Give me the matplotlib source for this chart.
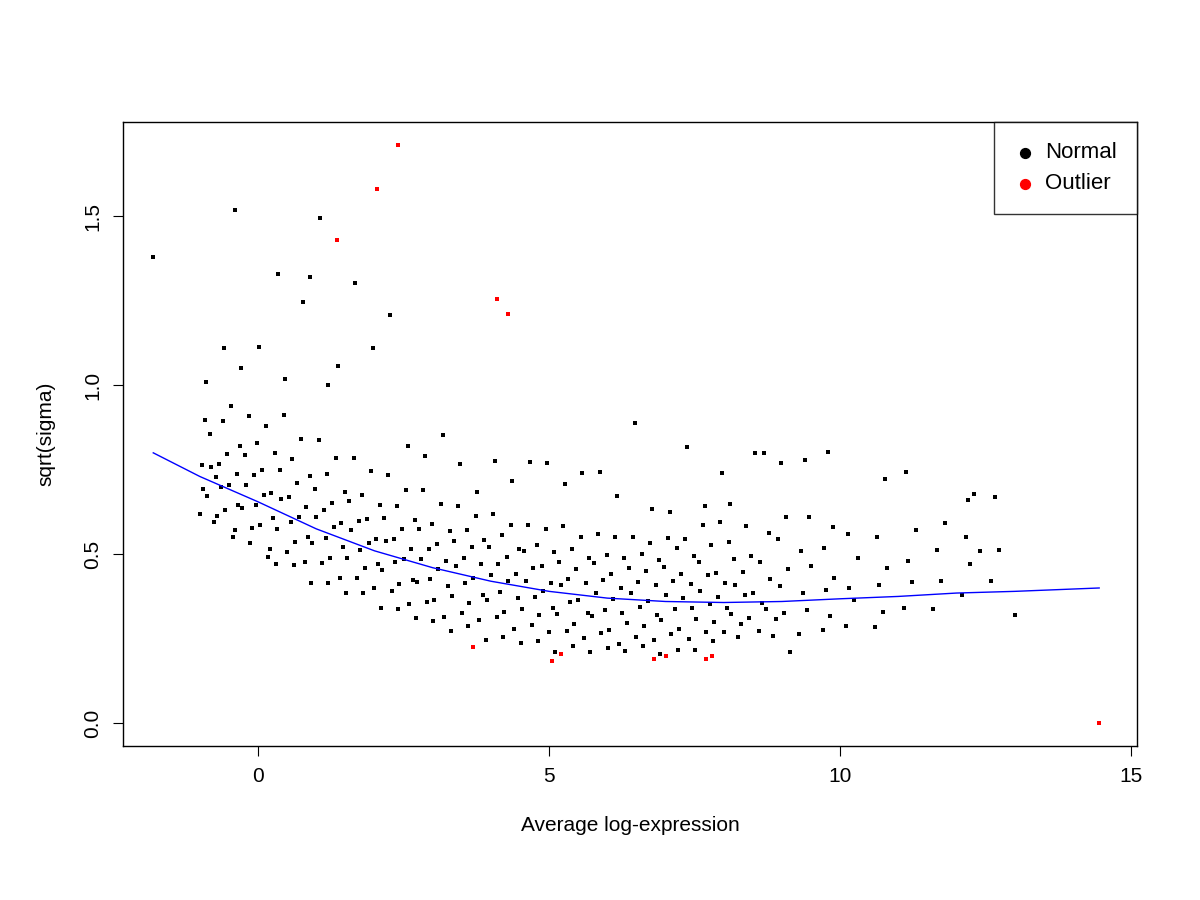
import matplotlib.pyplot as plt

# Cloud of ordinary genes (x, list of y)
cloud_x = [-1.0, -0.7, -0.4, -0.1, 0.2, 0.5, 0.8, 1.1, 1.4, 1.7, 2.0, 2.3, 2.6, 2.9,
           3.2, 3.5, 3.8, 4.1, 4.4, 4.7, 5.0, 5.3, 5.6, 5.9, 6.2, 6.5, 6.8, 7.1,
           7.4, 7.7, 8.0, 8.3, 8.6, 8.9, 9.3, 9.7, 10.1, 10.6, 11.1, 11.6, 12.1, 12.6]
cloud_y = [
    [.62, .66, .70, .74, .78, .85, .90, .58, 1.02, .72],
    [.60, .64, .68, .72, .76, .80, .88, .95, 1.10, .55],
    [.58, .62, .66, .70, .74, .78, .83, .90, 1.05, .52],
    [.56, .60, .64, .68, .72, .76, .82, .88, 1.10, .50],
    [.53, .57, .61, .65, .69, .74, .80, .90, .48, 1.00],
    [.50, .54, .58, .62, .66, .71, .77, .85, .45, 1.26],
    [.48, .52, .56, .60, .64, .68, .74, .82, .43, 1.49],
    [.46, .50, .54, .58, .62, .66, .72, .80, .41, 1.06],
    [.44, .48, .52, .56, .60, .64, .70, .78, .39, 1.29],
    [.42, .46, .50, .54, .58, .62, .67, .75, .37, 1.12],
    [.40, .44, .48, .52, .56, .60, .65, .72, .35, 1.20],
    [.38, .42, .46, .50, .54, .58, .63, .70, .33, .82],
    [.36, .40, .44, .48, .52, .56, .61, .68, .31, .78],
    [.34, .38, .42, .46, .50, .54, .58, .65, .29, .86],
    [.33, .37, .41, .45, .49, .53, .57, .63, .28, .75],
    [.32, .36, .40, .44, .48, .52, .56, .62, .27, .70],
    [.31, .35, .39, .43, .47, .51, .55, .60, .26, .77],
    [.30, .34, .38, .42, .46, .50, .54, .60, .25, .72],
    [.29, .33, .37, .41, .45, .49, .53, .58, .24, .76],
    [.28, .32, .36, .40, .44, .48, .52, .58, .23, .78],
    [.27, .31, .35, .39, .43, .47, .51, .57, .22, .70],
    [.26, .30, .34, .38, .42, .46, .50, .56, .22, .74],
    [.26, .30, .34, .38, .42, .46, .50, .55, .21, .73],
    [.25, .29, .33, .37, .41, .45, .49, .55, .21, .68],
    [.25, .29, .33, .37, .41, .45, .49, .54, .22, .87],
    [.25, .29, .33, .37, .41, .45, .49, .54, .21, .65],
    [.25, .29, .33, .37, .41, .45, .49, .53, .22, .62],
    [.25, .29, .33, .37, .41, .45, .50, .56, .21, .82],
    [.26, .30, .34, .38, .42, .46, .51, .58, .22, .63],
    [.26, .30, .34, .38, .42, .46, .52, .60, .23, .75],
    [.27, .31, .35, .39, .43, .48, .54, .24, .66],
    [.28, .32, .36, .40, .44, .50, .57, .81],
    [.28, .32, .37, .42, .48, .55, .81, .25],
    [.29, .34, .40, .46, .53, .62, .76, .21],
    [.28, .33, .39, .45, .52, .60, .78],
    [.27, .32, .38, .44, .51, .58, .79],
    [.29, .35, .41, .48, .56],
    [.27, .34, .40, .46, .54, .73],
    [.35, .41, .48, .56, .75],
    [.33, .42, .50, .60],
    [.38, .46, .56, .66],
    [.41, .52, .65],
]
col_offsets = [0.0, 0.13, 0.06, 0.20, 0.03, 0.17, 0.09, 0.24, 0.11, 0.27]
row_offsets = [0.0, 0.012, -0.008, 0.018, -0.015, 0.006, -0.004, 0.014, -0.01, 0.009]

extra_x = [-1.8, -0.4, 0.35, 0.9, 1.2, 13.0, 12.4, 12.2]
extra_y = [1.38, 1.52, 1.33, 1.32, 1.0, 0.32, 0.51, 0.66]

outlier_x = [2.4, 2.05, 1.35, 4.1, 4.3, 3.7, 5.05, 5.2, 6.8, 7.0, 7.7, 7.8, 14.45]
outlier_y = [1.71, 1.58, 1.43, 1.255, 1.21, 0.225, 0.185, 0.205, 0.19, 0.2, 0.19, 0.2, 0.0]

trend_x = [-1.8, -1, 0, 1, 2, 3, 4, 5, 6, 7, 8, 9, 10, 11, 12, 13, 14.45]
trend_y = [0.80, 0.73, 0.655, 0.575, 0.51, 0.46, 0.42, 0.39, 0.37, 0.36, 0.357,
           0.36, 0.368, 0.375, 0.385, 0.39, 0.40]

plt.rcParams["font.family"] = ["Liberation Sans", "DejaVu Sans"]
fig = plt.figure(figsize=(12, 9), dpi=100)
ax = fig.add_axes([0.1025, 0.171, 0.845, 0.693])

nx, ny = [], []
for j, (x0, ys) in enumerate(zip(cloud_x, cloud_y)):
    for i, y in enumerate(ys):
        nx.append(x0 + col_offsets[i % len(col_offsets)])
        ny.append(y + row_offsets[(i + j) % len(row_offsets)])
nx += extra_x
ny += extra_y

ax.scatter(nx, ny, s=5, c="black", marker="s", linewidths=0)
ax.scatter(outlier_x, outlier_y, s=5, c="red", marker="s", linewidths=0)
ax.plot(trend_x, trend_y, color="blue", lw=1)

ax.set_xlim(-2.32, 15.1)
ax.set_ylim(-0.068, 1.778)
ax.set_xticks([0, 5, 10, 15])
ax.set_yticks([0.0, 0.5, 1.0, 1.5])
ax.set_yticklabels(["0.0", "0.5", "1.0", "1.5"], rotation=90, va="center")
ax.tick_params(labelsize=15, length=7, pad=8)
ax.set_xlabel("Average log-expression", fontsize=15, labelpad=22)
ax.set_ylabel("sqrt(sigma)", fontsize=15, labelpad=20)
for s in ax.spines.values():
    s.set_linewidth(1)

h1 = ax.scatter([], [], c="black", s=50)
h2 = ax.scatter([], [], c="red", s=50)
leg = ax.legend([h1, h2], ["Normal", "Outlier"], loc="upper right", fontsize=16,
                frameon=True, fancybox=False, edgecolor="black", borderaxespad=0,
                handlelength=1.0, handletextpad=0.4, borderpad=0.9,
                labelspacing=0.45)
leg.get_frame().set_linewidth(1)

fig.savefig("out.png", dpi=100)
